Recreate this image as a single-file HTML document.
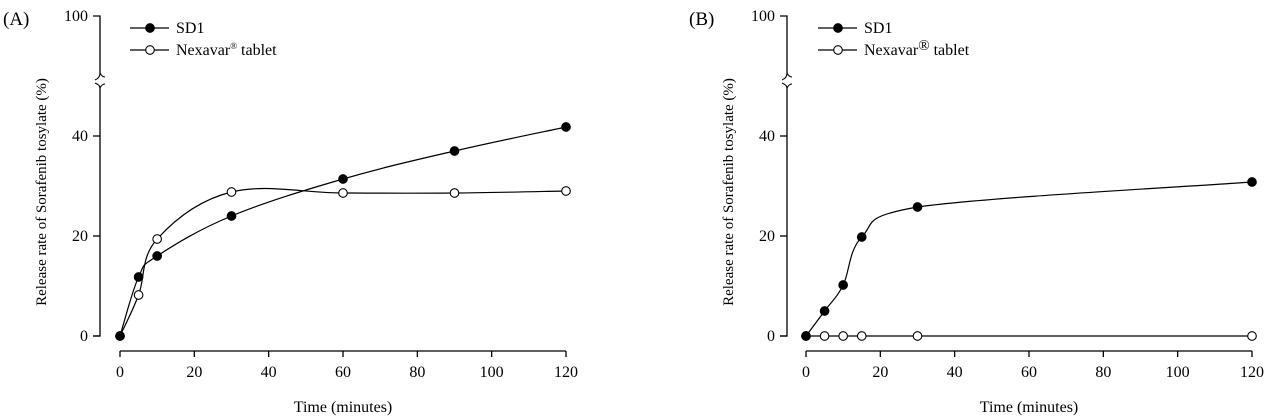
<!DOCTYPE html>
<html><head><meta charset="utf-8">
<style>
html,body{margin:0;padding:0;background:#fff;}
svg{display:block;font-family:"Liberation Serif",serif;}
</style></head>
<body>
<svg id="chart" width="1269" height="416" viewBox="0 0 1269 416" xmlns="http://www.w3.org/2000/svg"></svg>
<script>
const timesA = [0,5,10,30,60,90,120];
const sd1A = [0,11.8,16,24,31.4,37,41.8];
const nexA = [0,8.2,19.4,28.8,28.6,28.6,29];
const timesB = [0,5,10,15,30,120];
const sd1B = [0,5,10.2,19.8,25.8,30.8];
const nexB = [0,0,0,0,0,0];
const xTicks = [0,20,40,60,80,100,120];
const yTicks = [0,20,40];
const yTop = 100;

const NS="http://www.w3.org/2000/svg";
const svg=document.getElementById('chart');
function mk(tag,attrs,parent){const e=document.createElementNS(NS,tag);for(const k in attrs)e.setAttribute(k,attrs[k]);(parent||svg).appendChild(e);return e;}
function txt(s,attrs,parent){const e=mk('text',attrs,parent);e.textContent=s;return e;}

function spline(pts){
  let d=`M${pts[0][0]},${pts[0][1]}`;
  for(let i=0;i<pts.length-1;i++){
    const p0=pts[Math.max(i-1,0)],p1=pts[i],p2=pts[i+1],p3=pts[Math.min(i+2,pts.length-1)];
    const t=0.18;
    let c1x=p1[0]+(p2[0]-p0[0])*t,c1y=p1[1]+(p2[1]-p0[1])*t;
    let c2x=p2[0]-(p3[0]-p1[0])*t,c2y=p2[1]-(p3[1]-p1[1])*t;
    c1x=Math.min(Math.max(c1x,p1[0]),p2[0]);c2x=Math.min(Math.max(c2x,p1[0]),p2[0]);
    d+=` C${c1x},${c1y} ${c2x},${c2y} ${p2[0]},${p2[1]}`;
  }
  return d;
}

function panel(id,ax,x0,letterX,times,sd1,nex,legX,sup){
  const g=mk('g',{});
  
  
  const xs=v=>x0+v*(446/120);
  const ys=v=>336-v*5;
  txt('('+id.toUpperCase()+')',{x:letterX,y:25,'font-size':19},g);
  const ya=mk('path',{d:`M${ax-7},16 H${ax} V73 M${ax},88 V336 H${ax-7}`,stroke:'#000','stroke-width':1.3,fill:'none'},g);
  
  mk('path',{d:`M${ax-5},80 q5,-2 5,-7 M${ax-5},83 q5,2 5,5 M${ax},73 q2,4 5,4 M${ax},88 q2,-4 5,-4`,stroke:'#000','stroke-width':1.1,fill:'none'},g);
  yTicks.forEach(v=>{
    mk('line',{x1:ax-7,x2:ax,y1:ys(v),y2:ys(v),stroke:'#000','stroke-width':1.3},g);
    const t=txt(String(v),{x:ax-12,y:ys(v)+5,'font-size':16,'text-anchor':'end'},g);
    
  });
  txt(String(yTop),{x:ax-12,y:21,'font-size':16,'text-anchor':'end'},g);
  const yl=txt('Release rate of Sorafenib tosylate (%)',{x:0,y:0,'font-size':15,'text-anchor':'middle',transform:`translate(${ax-54},192) rotate(-90)`},g);
  
  const xa=mk('line',{x1:xs(0),x2:xs(120),y1:351,y2:351,stroke:'#000','stroke-width':1.3},g);
  
  xTicks.forEach(v=>{
    mk('line',{x1:xs(v),x2:xs(v),y1:351,y2:357,stroke:'#000','stroke-width':1.3},g);
    const t=txt(String(v),{x:xs(v),y:377,'font-size':16,'text-anchor':'middle'},g);
    
  });
  const xl=txt('Time (minutes)',{x:xs(60),y:412,'font-size':16,'text-anchor':'middle'},g);
  
  [[nex,false,'nexavar'],[sd1,true,'sd1']].forEach(([vals,filled,nm])=>{
    const pts=times.map((t,i)=>[xs(t),ys(vals[i])]);
    const p=mk('path',{d:spline(pts),stroke:'#000','stroke-width':1.2,fill:'none'},g);
    
    pts.forEach(q=>{
      const c=mk('circle',{cx:q[0],cy:q[1],r:4.3,fill:filled?'#000':'#fff',stroke:'#000','stroke-width':1.1},g);
      
    });
  });
  const lg=mk('g',{},g);
  
  [[28,true,'SD1'],[50,false,'Nexavar']].forEach(([y,f,s])=>{
    mk('line',{x1:legX,x2:legX+39,y1:y,y2:y,stroke:'#000','stroke-width':1.2},lg);
    mk('circle',{cx:legX+20,cy:y,r:4.3,fill:f?'#000':'#fff',stroke:'#000','stroke-width':1.1},lg);
    const t=txt(s,{x:legX+46,y:y+5,'font-size':16},lg);
    
    if(!f){
      const ts=document.createElementNS(NS,'tspan');
      if(sup){ts.setAttribute('font-size','15');ts.setAttribute('dy','-5');}
      else {ts.setAttribute('font-size','9');ts.setAttribute('dy','-6');}
      ts.textContent='®';t.appendChild(ts);
      const ts2=document.createElementNS(NS,'tspan');
      ts2.setAttribute('dy',sup?'5':'6');ts2.textContent=' tablet';t.appendChild(ts2);
    }
  });
}
panel('a',100,120,3,timesA,sd1A,nexA,130,false);
panel('b',787,806,689,timesB,sd1B,nexB,818,true);
</script>
</body></html>
